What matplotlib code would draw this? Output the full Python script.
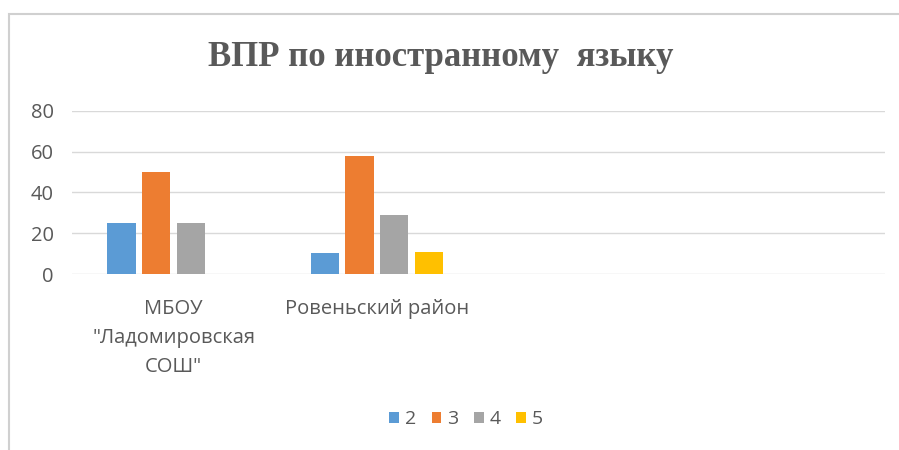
import matplotlib
matplotlib.use('Agg')
import matplotlib.pyplot as plt
import numpy as np
from matplotlib.patches import Rectangle

# data
categories = ['МБОУ\n"Ладомировская\nСОШ"', 'Ровеньский район', '', '']
series_names = ['2', '3', '4', '5']
mbou = [25, 50, 25, 0]
rayon = [10.5, 58, 29, 11]
colors = ['#5B9BD5', '#ED7D31', '#A5A5A5', '#FFC000']
yticks = [0, 20, 40, 60, 80]

values = np.array([mbou, rayon, [0, 0, 0, 0], [0, 0, 0, 0]]).T  # series x category

plt.rcParams['font.family'] = ['Open Sans', 'DejaVu Sans']
TXT = '#595959'

fig = plt.figure(figsize=(8.99, 4.5), dpi=100)
fig.add_artist(Rectangle((9 / 899, -0.01), 1.0, 1 - 14 / 450 + 0.01,
                         transform=fig.transFigure, fill=False,
                         edgecolor='#D0D0D0', linewidth=1.5))

ax = fig.add_axes([72 / 899, 1 - 274 / 450, (885 - 72) / 899, (274 - 111) / 450])

x = np.arange(len(categories))
slot = 0.171
bw = 0.138
for i, name in enumerate(series_names):
    off = (i - 1.5) * slot
    ax.bar(x + off, values[i], width=bw, color=colors[i], label=name, zorder=3)

ax.set_xlim(-0.5, 3.5)
ax.set_ylim(0, 80)
ax.set_yticks(yticks)
ax.yaxis.grid(True, color='#D9D9D9', linewidth=1, zorder=0)
for s in ax.spines.values():
    s.set_visible(False)
ax.tick_params(axis='both', length=0, labelsize=14.5, colors=TXT)
ax.tick_params(axis='y', pad=13)
ax.set_xticks(x)
ax.set_xticklabels(categories, linespacing=1.6, color=TXT)
ax.tick_params(axis='x', pad=18)
ax.set_axisbelow(True)

fig.text(441 / 899, 1 - 57 / 450, 'ВПР по иностранному  языку', ha='center', va='center',
         fontsize=25, fontweight='bold', color=TXT,
         family=['Liberation Serif', 'DejaVu Serif'])

fig.legend(loc='center', bbox_to_anchor=(466 / 899, 1 - 419 / 450), ncol=4, frameon=False,
           fontsize=14, labelcolor=TXT, handlelength=0.5, handleheight=0.5,
           handletextpad=0.3, columnspacing=0.8)

fig.savefig('out.png', dpi=100)
